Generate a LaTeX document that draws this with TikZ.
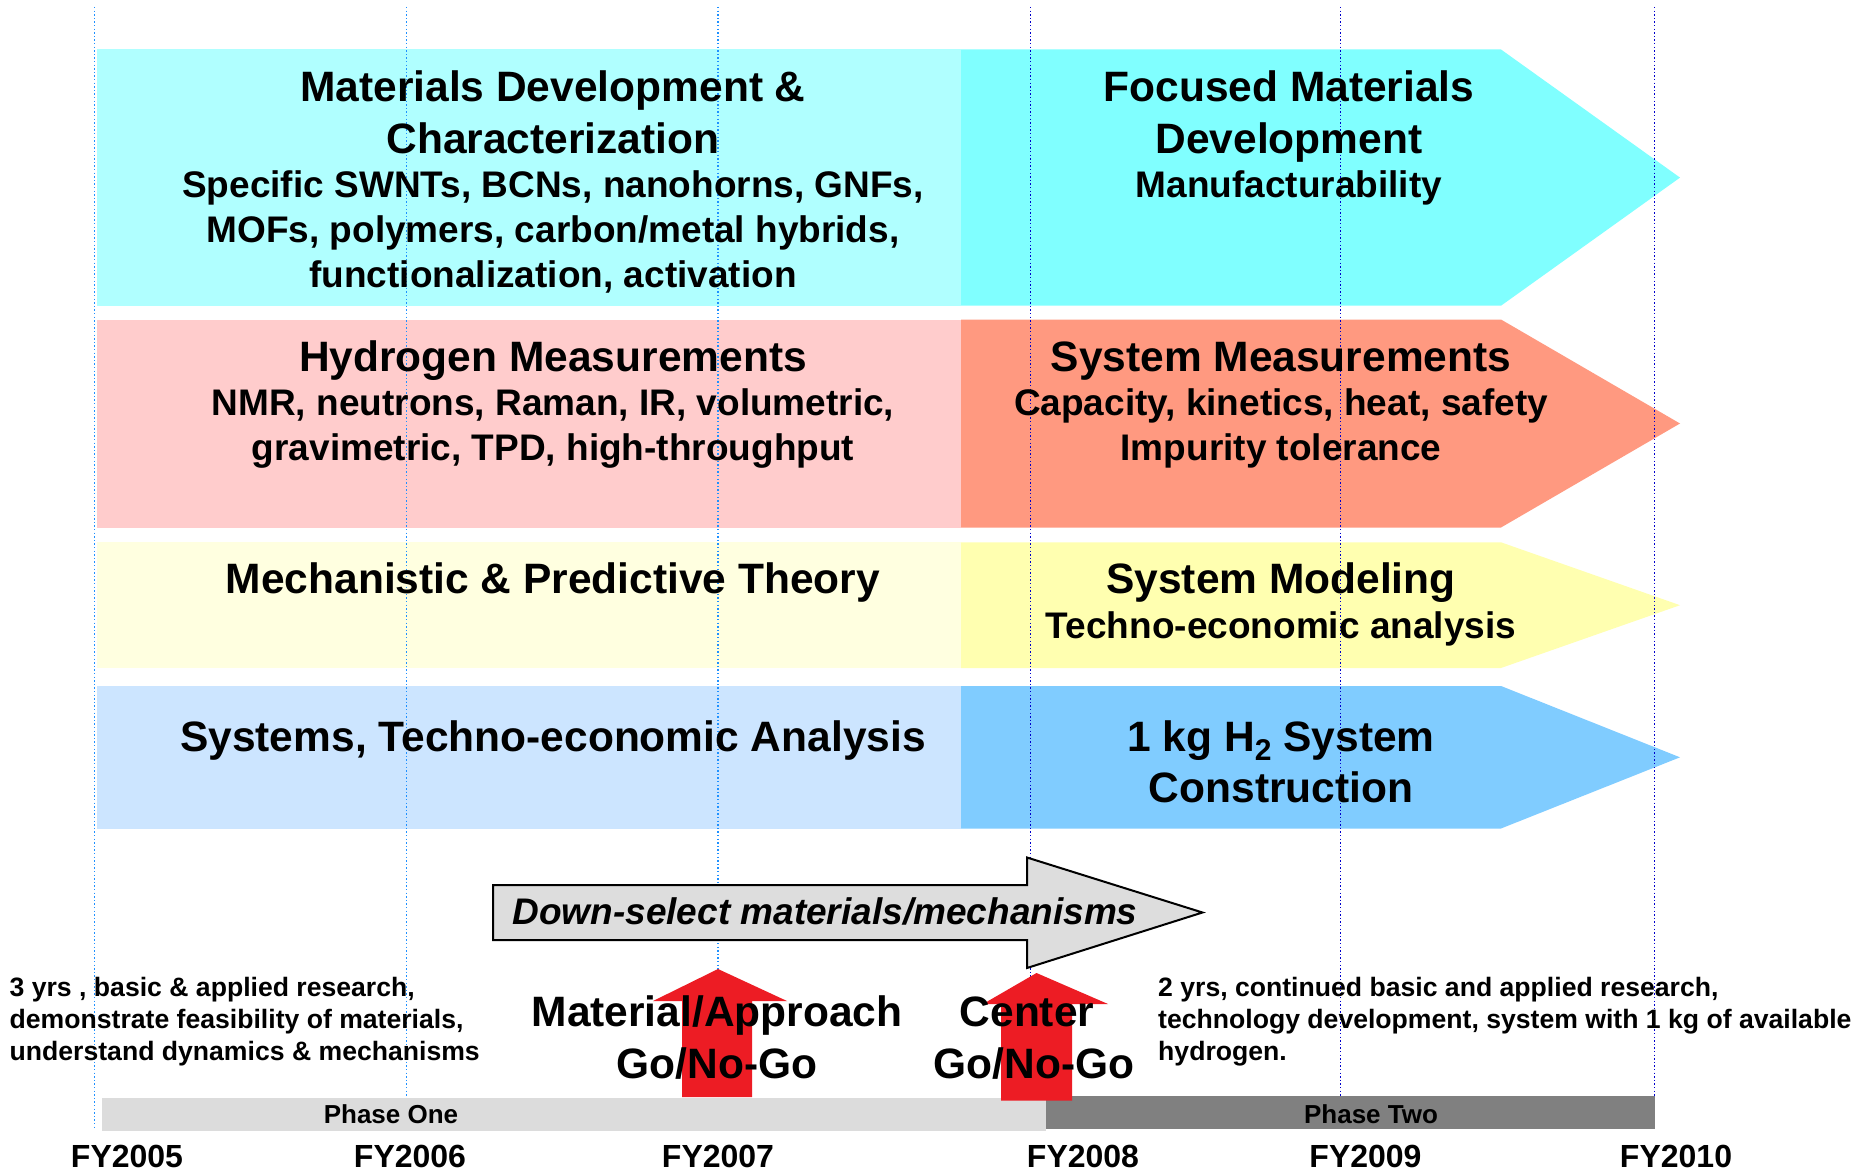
\documentclass[tikz,border=0pt]{standalone}
\usepackage{fontspec}
\setmainfont{Liberation Sans}
\definecolor{cyanL}{HTML}{B0FFFF}
\definecolor{cyanR}{HTML}{80FFFF}
\definecolor{pinkL}{HTML}{FFCCCC}
\definecolor{pinkR}{HTML}{FF9980}
\definecolor{yelL}{HTML}{FFFFE0}
\definecolor{yelR}{HTML}{FFFFB0}
\definecolor{bluL}{HTML}{CCE5FF}
\definecolor{bluR}{HTML}{80CCFF}
\definecolor{lineA}{HTML}{1E90FF}
\definecolor{lineB}{HTML}{0000CC}
\definecolor{redA}{HTML}{ED1C24}
\definecolor{grayL}{HTML}{DCDCDC}
\definecolor{grayD}{HTML}{808080}
\definecolor{grayM}{HTML}{DDDDDD}
\tikzset{
  ttl/.style={font=\fontsize{42.5}{51}\selectfont\bfseries, anchor=base, inner sep=0pt},
  subt/.style={font=\fontsize{37}{44}\selectfont\bfseries, anchor=base, inner sep=0pt},
  note/.style={font=\fontsize{26.6}{32}\selectfont\bfseries, anchor=base west, inner sep=0pt},
  yr/.style={font=\fontsize{32}{38}\selectfont\bfseries, anchor=base, inner sep=0pt},
  phase/.style={font=\fontsize{26}{31}\selectfont\bfseries, anchor=base, inner sep=0pt},
  gridA/.style={draw=lineA, line width=1.4pt, dash pattern=on 1.4pt off 2.2pt},
  gridB/.style={draw=lineB, line width=1.4pt, dash pattern=on 1.4pt off 2.2pt},
}
\begin{document}
\begin{tikzpicture}[x=1pt,y=-1pt]
\useasboundingbox[fill=white] (0,0) rectangle (1864,1172);

% ---- bands: left parts
\fill[cyanL] (97,49.5) rectangle (961,305.7);
\fill[pinkL] (97,319.5) rectangle (961,527.5);
\fill[yelL]  (97,542.3) rectangle (961,668);
\fill[bluL]  (97,686) rectangle (961,828.5);
% ---- bands: right arrow parts
\fill[cyanR] (961,49.5) -- (1501,49.5) -- (1680,177.6) -- (1501,305.7) -- (961,305.7) -- cycle;
\fill[pinkR] (961,319.5) -- (1501,319.5) -- (1680,423.5) -- (1501,527.5) -- (961,527.5) -- cycle;
\fill[yelR]  (961,542.3) -- (1501,542.3) -- (1680,605.2) -- (1501,668) -- (961,668) -- cycle;
\fill[bluR]  (961,686) -- (1501,686) -- (1680,757.3) -- (1501,828.5) -- (961,828.5) -- cycle;

% ---- dotted year lines
\foreach \n/\x in {a/94.7,b/406.4,c/718.1}{
  \coordinate (t\n) at (\x,7);
  \coordinate (b\n) at (\x,1130);
  \draw[gridA] (t\n) -- (b\n);
}
\foreach \n/\x in {d/1030.3,e/1340.5,f/1654.3}{
  \coordinate (t\n) at (\x,7);
  \coordinate (b\n) at (\x,1130);
  \draw[gridB] (t\n) -- (b\n);
}

% ---- down-select arrow
\draw[fill=grayM, line width=2pt, line join=miter]
  (493,885) -- (1027,885) -- (1027,857.5) -- (1202.5,912.5) -- (1027,968) -- (1027,940) -- (493,940) -- cycle;

% ---- phase bars
\fill[grayL] (102,1097.7) rectangle (1046,1130.7);
\fill[grayD] (1046,1096) rectangle (1655,1128.7);

% ---- red go/no-go arrows
\fill[redA] (718,969) -- (787,1001) -- (752,1001) -- (752,1097) -- (682,1097) -- (682,1001) -- (653,1001) -- cycle;
\fill[redA] (1036.5,973) -- (1108,1004) -- (1072,1004) -- (1072,1100.7) -- (1001,1100.7) -- (1001,1004) -- (983,1004) -- cycle;

% ---- band 1 texts
\node[ttl]  (m1a) at (553,101) {Materials Development \&};
\node[ttl]  (m1b) at (553,153) {Characterization};
\node[subt] (m1c) at (553,197) {Specific SWNTs, BCNs, nanohorns, GNFs,};
\node[subt] (m1d) at (553,242) {MOFs, polymers, carbon/metal hybrids,};
\node[subt] (m1e) at (553,287) {functionalization, activation};
\node[ttl]  (f1a) at (1289,101) {Focused Materials};
\node[ttl]  (f1b) at (1289,153) {Development};
\node[subt] (f1c) at (1289,197) {Manufacturability};

% ---- band 2 texts
\node[ttl]  (h2a) at (553,371) {Hydrogen Measurements};
\node[subt] (h2b) at (553,415) {NMR, neutrons, Raman, IR, volumetric,};
\node[subt] (h2c) at (553,460) {gravimetric, TPD, high-throughput};
\node[ttl]  (s2a) at (1281,371) {System Measurements};
\node[subt] (s2b) at (1281,415) {Capacity, kinetics, heat, safety};
\node[subt] (s2c) at (1281,460) {Impurity tolerance};

% ---- band 3 texts
\node[ttl]  (t3a) at (553,593) {Mechanistic \& Predictive Theory};
\node[ttl]  (s3a) at (1281,593) {System Modeling};
\node[subt] (s3b) at (1281,638) {Techno-economic analysis};

% ---- band 4 texts
\node[ttl]  (t4a) at (553,751) {Systems, Techno-economic Analysis};
\node[ttl]  (s4a) at (1281,751) {1 kg H\raisebox{-0.22em}{\fontsize{30}{32}\selectfont 2} System};
\node[ttl]  (s4b) at (1281,802) {Construction};

% ---- down-select text
\node[subt, font=\fontsize{37}{44}\selectfont\bfseries\itshape] (ds) at (825,924) {Down-select materials/mechanisms};

% ---- go/no-go labels
\node[ttl] (g1a) at (717,1026) {Material/Approach};
\node[ttl] (g1b) at (717,1078) {Go/No-Go};
\node[ttl] (g2a) at (1027,1026) {Center};
\node[ttl] (g2b) at (1034,1078) {Go/No-Go};

% ---- phase notes
\node[note] (n1a) at (9.5,996) {3 yrs , basic \& applied research,};
\node[note] (n1b) at (9.5,1028) {demonstrate feasibility of materials,};
\node[note] (n1c) at (9.5,1060) {understand dynamics \& mechanisms};
\node[note] (n2a) at (1158,996) {2 yrs, continued basic and applied research,};
\node[note] (n2b) at (1158,1028) {technology development, system with 1 kg of available};
\node[note] (n2c) at (1158,1060) {hydrogen.};

% ---- phase bar labels
\node[phase] (p1) at (391,1123) {Phase One};
\node[phase] (p2) at (1371,1123) {Phase Two};

% ---- years
\node[yr] (y5) at (127,1167) {FY2005};
\node[yr] (y6) at (410,1167) {FY2006};
\node[yr] (y7) at (718,1167) {FY2007};
\node[yr] (y8) at (1083,1167) {FY2008};
\node[yr] (y9) at (1365.5,1167) {FY2009};
\node[yr] (y10) at (1676,1167) {FY2010};
\end{tikzpicture}
\end{document}
